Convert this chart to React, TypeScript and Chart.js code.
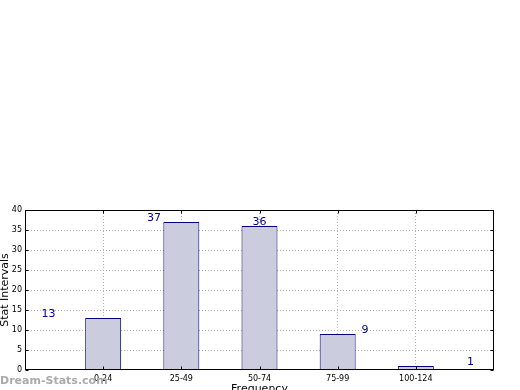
import React, { useEffect, useRef } from "react";
import { Chart, registerables } from "chart.js";

Chart.register(...registerables);

const categories = ["0-24", "25-49", "50-74", "75-99", "100-124"];
const frequencies = [13, 37, 36, 9, 1];
const yTicks = [0, 5, 10, 15, 20, 25, 30, 35, 40];

export default function App() {
  const ref = useRef<HTMLCanvasElement>(null);
  useEffect(() => {
    const labels = ["", ...categories, ""];
    const data = [null, ...frequencies, null];
    const font = "'DejaVu Sans', sans-serif";
    const overlay = {
      id: "overlay",
      afterDraw(chart: any) {
        const ctx = chart.ctx;
        const xs = chart.scales.x;
        const ys = chart.scales.y;
        ctx.save();
        ctx.fillStyle = "#00008b";
        ctx.font = `11px ${font}`;
        ctx.textAlign = "center";
        ctx.textBaseline = "middle";
        frequencies.forEach((v, i) => {
          const px = xs.getPixelForValue(i * 1.35 + 0.3);
          const py = ys.getPixelForValue(v + 0.9);
          ctx.fillText(String(v), px, py);
        });
        ctx.fillStyle = "#000";
        ctx.font = `11px ${font}`;
        ctx.fillText("Frequency", (xs.left + xs.right) / 2, 389);
        ctx.save();
        ctx.translate(5, (ys.top + ys.bottom) / 2);
        ctx.rotate(-Math.PI / 2);
        ctx.fillText("Stat Intervals", 0, 0);
        ctx.restore();
        ctx.fillStyle = "#aaaaaa";
        ctx.font = `bold 11px ${font}`;
        ctx.textAlign = "left";
        ctx.fillText("Dream-Stats.com", 0, 381);
        ctx.restore();
      },
    };
    const frame = {
      id: "frame",
      afterDatasetsDraw(chart: any) {
        const { ctx, chartArea: a } = chart;
        const xs = chart.scales.x;
        const ys = chart.scales.y;
        ctx.save();
        ctx.strokeStyle = "#000";
        ctx.lineWidth = 1;
        const l = Math.round(a.left) + 0.5;
        const t = Math.round(a.top) + 0.5;
        const r = Math.round(a.right) - 0.5;
        const b = Math.round(a.bottom) - 0.5;
        ctx.strokeRect(l, t, r - l, b - t);
        ctx.beginPath();
        yTicks.forEach((v) => {
          const y = Math.round(ys.getPixelForValue(v)) + 0.5;
          ctx.moveTo(l, y);
          ctx.lineTo(l + 3, y);
          ctx.moveTo(r, y);
          ctx.lineTo(r - 3, y);
        });
        categories.forEach((_, i) => {
          const x = Math.round(xs.getPixelForValue(i + 1)) + 0.5;
          ctx.moveTo(x, b);
          ctx.lineTo(x, b - 3);
          ctx.moveTo(x, t);
          ctx.lineTo(x, t + 3);
        });
        ctx.stroke();
        ctx.restore();
      },
    };
    const chart = new Chart(ref.current!, {
      type: "bar",
      data: {
        labels,
        datasets: [
          {
            data,
            backgroundColor: "#ccccdf",
            borderColor: "#000080",
            borderWidth: 1,
            barPercentage: 0.46,
            categoryPercentage: 1,
          },
        ],
      },
      options: {
        animation: false,
        responsive: false,
        devicePixelRatio: 1,
        layout: { padding: { top: 210, right: 26, left: 0, bottom: 0 } },
        plugins: { legend: { display: false }, tooltip: { enabled: false } },
        scales: {
          x: {
            offset: false,
            grid: {
              offset: false,
              color: (c: any) => (c.index === 0 || c.index === 6 ? "rgba(0,0,0,0)" : "#b0b0b0"),
              drawTicks: false,
            },
            border: { display: false, dash: [1, 2] },
            ticks: {
              color: "#000",
              font: { family: font, size: 8 },
              padding: 4,
              maxRotation: 0,
              autoSkip: false,
            },
            afterFit: (s: any) => {
              s.height = 20;
            },
          },
          y: {
            min: 0,
            max: 40,
            afterBuildTicks: (s: any) => {
              s.ticks = yTicks.map((v) => ({ value: v }));
            },
            grid: {
              color: (c: any) => (c.index === 0 || c.index === yTicks.length - 1 ? "rgba(0,0,0,0)" : "#b0b0b0"),
              drawTicks: false,
            },
            border: { display: false, dash: [1, 2] },
            ticks: {
              color: "#000",
              font: { family: font, size: 8 },
              padding: 3,
            },
            afterFit: (s: any) => {
              s.width = 25;
            },
          },
        },
      },
      plugins: [overlay, frame],
    });
    return () => chart.destroy();
  }, []);
  return (
    <canvas
      ref={ref}
      width={520}
      height={390}
      style={{ position: "fixed", left: 0, top: 0, width: 520, height: 390 }}
    />
  );
}
